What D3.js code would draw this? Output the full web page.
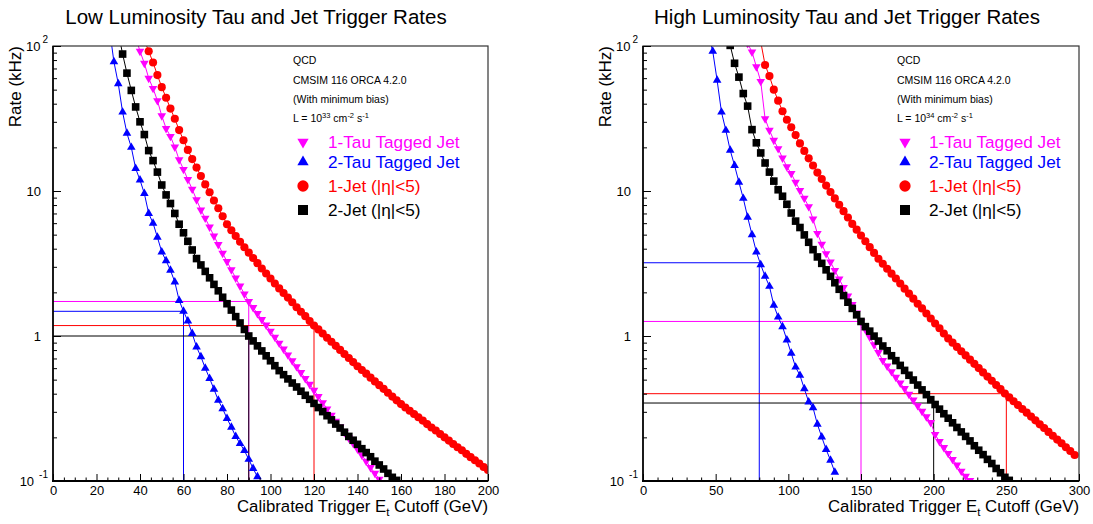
<!DOCTYPE html>
<html>
<head>
<meta charset="utf-8">
<script src="https://cdn.jsdelivr.net/npm/d3@7"></script>
<style>
  html, body { margin: 0; padding: 0; background: #fff; }
  svg text { font-family: "Liberation Sans", Arial, Helvetica, sans-serif; fill: #000; }
</style>
</head>
<body>
<svg id="chart" width="1093" height="524"></svg>
<script>
// ---------- Low luminosity (10^33), 2 GeV bins ----------
const lowEtStep = 2;
const low1TauFirstEt = 38;
const low1TauRate = [115, 92, 76, 60, 51, 42, 33, 27, 23.8, 20.1, 16.4, 14.1, 12.0, 10.3, 8.7, 7.4, 6.5,
  5.64, 4.90, 4.27, 3.72, 3.26, 2.86, 2.51, 2.21, 1.95, 1.73, 1.57, 1.43, 1.30, 1.19, 1.08, 0.982,
  0.893, 0.813, 0.741, 0.675, 0.615, 0.560, 0.509, 0.465, 0.423, 0.383, 0.347, 0.314, 0.284, 0.258,
  0.236, 0.216, 0.198, 0.182, 0.166, 0.151, 0.137, 0.124, 0.113, 0.103];
const low2TauFirstEt = 26;
const low2TauRate = [130, 78, 55, 35, 25, 20, 14.3, 11.9, 9.6, 7.0, 6.0, 4.8, 3.8, 3.3, 2.84, 2.36,
  1.76, 1.48, 1.27, 1.04, 0.84, 0.72, 0.60, 0.51, 0.43, 0.36, 0.315, 0.27, 0.235, 0.203, 0.181,
  0.162, 0.141, 0.122, 0.107];
const low1JetFirstEt = 42;
const low1JetRate = [110, 92, 77, 63, 52, 44, 37, 31.5, 26.3, 22.4, 19.2, 16.6, 14.5, 12.7, 11.1, 9.8,
  8.6, 7.6, 6.7, 5.9, 5.36, 4.89, 4.47, 4.09, 3.76, 3.45, 3.18, 2.92, 2.70, 2.49, 2.30, 2.13, 1.98,
  1.84, 1.71, 1.58, 1.47, 1.37, 1.27, 1.18, 1.11, 1.04, 0.973, 0.912, 0.855, 0.802, 0.752, 0.705,
  0.661, 0.619, 0.583, 0.550, 0.516, 0.486, 0.458, 0.432, 0.406, 0.382, 0.360, 0.339, 0.321, 0.305,
  0.290, 0.275, 0.261, 0.247, 0.234, 0.223, 0.211, 0.200, 0.190, 0.180, 0.171, 0.163, 0.154, 0.146,
  0.139, 0.132, 0.125, 0.119];
const low2JetFirstEt = 30;
const low2JetRate = [125, 88, 65, 49.4, 38, 30, 24.5, 19, 16.2, 13.5, 11.0, 9.4, 8.2, 7.0, 5.9, 5.15,
  4.50, 3.92, 3.42, 3.09, 2.79, 2.52, 2.27, 2.05, 1.85, 1.67, 1.51, 1.36, 1.23, 1.11, 1.0, 0.925,
  0.855, 0.789, 0.730, 0.675, 0.624, 0.577, 0.541, 0.506, 0.474, 0.445, 0.416, 0.390, 0.366, 0.343,
  0.321, 0.301, 0.282, 0.264, 0.247, 0.232, 0.217, 0.203, 0.191, 0.179, 0.167, 0.157, 0.147, 0.137,
  0.129, 0.121, 0.113, 0.106, 0.101];
// trigger thresholds (1-Tau, 2-Tau, 1-Jet, 2-Jet)
const lowCutoffEt = [90, 60, 120, 90];
const lowCutoffRate = [1.73, 1.48, 1.18, 1.0];

// ---------- High luminosity (10^34), 3 GeV bins ----------
const highEtStep = 3;
const high1TauFirstEt = 72;
const high1TauRate = [104, 91, 72, 57, 31.5, 26.2, 22.4, 19.6, 16.9, 14.7, 13.2, 11.5, 10.1, 8.9, 7.8,
  6.4, 5.1, 4.3, 3.7, 3.24, 2.83, 2.47, 2.16, 1.89, 1.65, 1.44, 1.26, 1.11, 0.984, 0.869, 0.769,
  0.679, 0.621, 0.568, 0.519, 0.474, 0.434, 0.396, 0.362, 0.331, 0.303, 0.277, 0.253, 0.209, 0.187,
  0.170, 0.155, 0.141, 0.129, 0.117, 0.108, 0.101];
const high2TauFirstEt = 45;
const high2TauRate = [120, 92, 58, 35, 26.2, 19.1, 15.0, 11.5, 8.9, 6.6, 5.0, 3.8, 3.1, 2.58, 2.2,
  1.63, 1.35, 1.16, 0.94, 0.76, 0.61, 0.535, 0.433, 0.351, 0.32, 0.246, 0.201, 0.165, 0.139, 0.115];
const high1JetFirstEt = 81;
const high1JetRate = [107, 74, 62, 50, 42, 35.5, 31, 27.5, 24.3, 21.3, 18.9, 16.8, 15.0, 13.4, 12.1,
  10.9, 9.84, 8.89, 8.04, 7.26, 6.56, 5.93, 5.41, 4.93, 4.50, 4.10, 3.74, 3.41, 3.15, 2.91, 2.69,
  2.49, 2.30, 2.12, 1.96, 1.81, 1.67, 1.55, 1.43, 1.32, 1.22, 1.13, 1.04, 0.962, 0.900, 0.841, 0.785,
  0.735, 0.687, 0.643, 0.601, 0.561, 0.525, 0.491, 0.459, 0.430, 0.401, 0.377, 0.355, 0.334, 0.314,
  0.296, 0.278, 0.262, 0.246, 0.232, 0.218, 0.205, 0.193, 0.182, 0.171, 0.161, 0.151];
const high2JetFirstEt = 60;
const high2JetRate = [101, 76, 61, 47, 38.5, 26.5, 21.5, 18.3, 15.6, 13.5, 11.7, 10.2, 9.2, 8.1, 7.05,
  6.2, 5.6, 4.98, 4.43, 3.94, 3.51, 3.17, 2.86, 2.58, 2.33, 2.10, 1.90, 1.71, 1.55, 1.40, 1.26, 1.16,
  1.08, 0.998, 0.923, 0.853, 0.791, 0.731, 0.676, 0.627, 0.579, 0.536, 0.497, 0.459, 0.425, 0.394,
  0.364, 0.337, 0.313, 0.291, 0.271, 0.252, 0.234, 0.218, 0.203, 0.189, 0.175, 0.163, 0.152, 0.141,
  0.132, 0.122, 0.114, 0.106, 0.101];
const highCutoffEt = [150, 80, 250, 200];
const highCutoffRate = [1.26, 3.2, 0.40, 0.345];

// ---------- shared labels ----------
const seriesNames = ["1-Tau Tagged Jet", "2-Tau Tagged Jet", "1-Jet (|\u03B7|<5)", "2-Jet (|\u03B7|<5)"];
const seriesColors = ["#ff00ff", "#0000ff", "#ff0000", "#000000"];
const seriesMarkers = ["triangleDown", "triangleUp", "circle", "square"];
const panelTitles = ["Low Luminosity Tau and Jet Trigger Rates", "High Luminosity Tau and Jet Trigger Rates"];
const lumiExponents = ["33", "34"];
const infoLines = ["QCD", "CMSIM 116 ORCA 4.2.0", "(With minimum bias)"];
const rateTickValues = [0.1, 1, 10, 100];
const rateTickBase = ["10", "1", "10", "10"];
const rateTickExp = ["-1", "", "", "2"];

const panels = [
  { title: panelTitles[0], lumi: lumiExponents[0], xMax: 200, major: 20, minor: 5, step: lowEtStep,
    firsts: [low1TauFirstEt, low2TauFirstEt, low1JetFirstEt, low2JetFirstEt],
    rates: [low1TauRate, low2TauRate, low1JetRate, low2JetRate],
    cutEt: lowCutoffEt, cutRate: lowCutoffRate },
  { title: panelTitles[1], lumi: lumiExponents[1], xMax: 300, major: 50, minor: 10, step: highEtStep,
    firsts: [high1TauFirstEt, high2TauFirstEt, high1JetFirstEt, high2JetFirstEt],
    rates: [high1TauRate, high2TauRate, high1JetRate, high2JetRate],
    cutEt: highCutoffEt, cutRate: highCutoffRate }
];

// ---------- layout ----------
const plotTop = 46, plotBottom = 481;
const layout = [
  { left: 53, right: 488, titleX: 256, infoX: 293, keyX: 303, keyTextX: 328 },
  { left: 643, right: 1079, titleX: 847, infoX: 897, keyX: 905, keyTextX: 929 }
];
const infoBaselines = [64, 84, 103, 122];
const keyCenters = [142, 162, 186, 210];

const svg = d3.select("#chart");
svg.append("rect").attr("width", 1093).attr("height", 524).attr("fill", "#fff");
const defs = svg.append("defs");

function markerPath(kind, size) {
  const t = { triangleDown: d3.symbolTriangle, triangleUp: d3.symbolTriangle,
              circle: d3.symbolCircle, square: d3.symbolSquare }[kind];
  return d3.symbol(t, size)();
}
const plotSizes = { triangleDown: 32, triangleUp: 32, circle: 52, square: 58 };
const keySizes = { triangleDown: 55, triangleUp: 55, circle: 100, square: 100 };

function placeMarker(sel, kind, cx, cy) {
  sel.attr("transform", `translate(${cx},${cy})` + (kind === "triangleDown" ? " rotate(180)" : ""));
}

panels.forEach((p, pi) => {
  const L = layout[pi];
  const g = svg.append("g");
  const x = d3.scaleLinear().domain([0, p.xMax]).range([L.left, L.right]);
  const y = d3.scaleLog().domain([0.1, 100]).range([plotBottom, plotTop]);

  const clipId = "plotclip" + pi;
  defs.append("clipPath").attr("id", clipId).append("rect")
    .attr("x", L.left).attr("y", plotTop)
    .attr("width", L.right - L.left).attr("height", plotBottom - plotTop);

  // title
  g.append("text").attr("x", L.titleX).attr("y", 24).attr("text-anchor", "middle")
    .attr("font-size", 20.5).text(p.title);

  const plot = g.append("g").attr("clip-path", `url(#${clipId})`);

  // threshold guide lines
  p.cutEt.forEach((et, k) => {
    plot.append("path")
      .attr("d", `M${x(0)},${y(p.cutRate[k])}H${x(et)}V${y(0.1)}`)
      .attr("fill", "none").attr("stroke", seriesColors[k]).attr("stroke-width", 1);
  });

  // rate curves
  p.rates.forEach((rates, k) => {
    const pts = rates.map((r, i) => ({ et: p.firsts[k] + i * p.step, rate: r }));
    plot.append("path").datum(pts)
      .attr("d", d3.line().x(d => x(d.et)).y(d => y(d.rate)))
      .attr("fill", "none").attr("stroke", seriesColors[k]).attr("stroke-width", 1);
    const kind = seriesMarkers[k];
    const path = markerPath(kind, plotSizes[kind]);
    plot.append("g").selectAll("path").data(pts).join("path")
      .attr("d", path).attr("fill", seriesColors[k])
      .each(function (d) { placeMarker(d3.select(this), kind, x(d.et), y(d.rate)); });
  });

  // frame
  g.append("rect").attr("x", L.left).attr("y", plotTop)
    .attr("width", L.right - L.left).attr("height", plotBottom - plotTop)
    .attr("fill", "none").attr("stroke", "#333").attr("stroke-width", 1.2);

  // x axis
  const xMajor = d3.range(0, p.xMax + 1e-9, p.major);
  const xMinor = d3.range(0, p.xMax + 1e-9, p.minor).filter(v => v % p.major !== 0);
  const xa = g.append("g").attr("transform", `translate(0,${plotBottom})`)
    .call(d3.axisBottom(x).tickValues(xMajor).tickSize(-7).tickSizeOuter(0).tickPadding(5)
      .tickFormat(d3.format("d")));
  xa.select(".domain").remove();
  xa.attr("font-family", null).attr("font-size", 13);
  xa.selectAll("line").attr("stroke", "#000");
  const xm = g.append("g").attr("transform", `translate(0,${plotBottom})`)
    .call(d3.axisBottom(x).tickValues(xMinor).tickSize(-3.5).tickSizeOuter(0).tickFormat(""));
  xm.select(".domain").remove();
  xm.selectAll("line").attr("stroke", "#000");

  // y axis
  const yMinor = [];
  [0.1, 1, 10].forEach(dec => { for (let m = 2; m <= 9; m++) yMinor.push(dec * m); });
  const ya = g.append("g").attr("transform", `translate(${L.left},0)`)
    .call(d3.axisLeft(y).tickValues(rateTickValues).tickSize(-8).tickSizeOuter(0).tickFormat(""));
  ya.select(".domain").remove();
  ya.selectAll("line").attr("stroke", "#000");
  const ym = g.append("g").attr("transform", `translate(${L.left},0)`)
    .call(d3.axisLeft(y).tickValues(yMinor).tickSize(-4).tickSizeOuter(0).tickFormat(""));
  ym.select(".domain").remove();
  ym.selectAll("line").attr("stroke", "#000");

  rateTickValues.forEach((v, k) => {
    const t = g.append("text").attr("y", y(v)).attr("dy", "0.36em").attr("font-size", 13)
      .attr("text-anchor", "end");
    if (rateTickExp[k] === "") {
      t.attr("x", L.left - 12).text(rateTickBase[k]);
    } else {
      t.attr("x", L.left - 5);
      t.append("tspan").text(rateTickBase[k]);
      t.append("tspan").attr("font-size", 10).attr("dx", rateTickExp[k].length > 1 ? 5 : 2)
        .attr("dy", -8).text(rateTickExp[k]);
    }
  });

  // axis lines
  g.append("line").attr("x1", L.left).attr("x2", L.left).attr("y1", plotTop).attr("y2", plotBottom + 1)
    .attr("stroke", "#000").attr("stroke-width", 1.6);
  g.append("line").attr("x1", L.left - 1).attr("x2", L.right).attr("y1", plotBottom).attr("y2", plotBottom)
    .attr("stroke", "#000").attr("stroke-width", 2);

  // axis titles
  g.append("text").attr("transform", `translate(${L.left - 32},${plotTop}) rotate(-90)`)
    .attr("text-anchor", "end").attr("font-size", 17).text("Rate (kHz)");
  const xt = g.append("text").attr("x", L.right).attr("y", 512).attr("text-anchor", "end")
    .attr("font-size", 16.8);
  xt.append("tspan").text("Calibrated Trigger E");
  xt.append("tspan").attr("font-size", 11.5).attr("dy", 4).text("t");
  xt.append("tspan").attr("dy", -4).text(" Cutoff (GeV)");

  // info block
  infoLines.forEach((line, k) => {
    g.append("text").attr("x", L.infoX).attr("y", infoBaselines[k]).attr("font-size", 10.5).text(line);
  });
  const lt = g.append("text").attr("x", L.infoX).attr("y", infoBaselines[3]).attr("font-size", 10.5);
  lt.append("tspan").text("L = 10");
  lt.append("tspan").attr("font-size", 7.5).attr("dy", -4).text(p.lumi);
  lt.append("tspan").attr("dy", 4).text(" cm");
  lt.append("tspan").attr("font-size", 7.5).attr("dy", -4).text("-2");
  lt.append("tspan").attr("dy", 4).text(" s");
  lt.append("tspan").attr("font-size", 7.5).attr("dy", -4).text("-1");

  // legend
  seriesNames.forEach((name, k) => {
    const kind = seriesMarkers[k];
    g.append("path").attr("d", markerPath(kind, keySizes[kind])).attr("fill", seriesColors[k])
      .call(s => placeMarker(s, kind, L.keyX, keyCenters[k]));
    g.append("text").attr("x", L.keyTextX).attr("y", keyCenters[k] + 6).attr("font-size", 17.2)
      .style("fill", seriesColors[k]).text(name);
  });
});
</script>
</body>
</html>
